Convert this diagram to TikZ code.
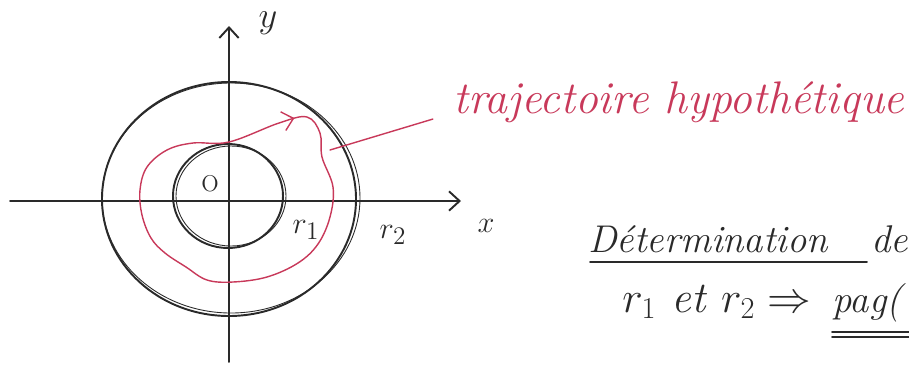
\documentclass[tikz,border=0pt]{standalone}
\usetikzlibrary{arrows.meta, decorations.markings}
\usepackage{xcolor}
\definecolor{pencil}{HTML}{2A2A2A}
\definecolor{redink}{HTML}{C8395A}

\begin{document}
\begin{tikzpicture}[x=0.02cm, y=-0.02cm,
    ink/.style={pencil, line width=1.1pt, line cap=round},
    sketch/.style={pencil, line width=0.5pt, line cap=round},
    traj/.style={redink, line width=0.8pt, line cap=round},
    hand/.style={inner sep=0pt, pencil},
    barb/.style={-{Straight Barb[length=6pt, width=11pt]}}]
  \useasboundingbox (0,0) rectangle (909,366);
  \clip (0,0) rectangle (909,366);

  % axes
  \coordinate (xa) at (10,201);
  \coordinate (xb) at (461,201);
  \coordinate (ya) at (229,362);
  \coordinate (yb) at (229,26);
  \draw[ink, barb] (xa) -- (xb);
  \draw[ink, barb] (ya) -- (yb);
  \node[hand, font=\fontsize{22}{26}\selectfont] (ylbl) at (268,23) {$y$};
  \node[hand, font=\fontsize{18}{22}\selectfont] (xlbl) at (486,226) {$x$};
  \node[hand, font=\fontsize{13}{16}\selectfont] (olbl) at (210,184) {O};

  % circles r1 and r2
  \draw[ink] (229,199) ellipse [x radius=127, y radius=117];
  \draw[sketch] (231,198) ellipse [x radius=129, y radius=115];
  \draw[ink] (228,196) ellipse [x radius=55, y radius=52];
  \draw[sketch] (231,196) ellipse [x radius=55, y radius=50];
  \node[hand, font=\fontsize{19}{22}\selectfont] (r1lbl) at (306,230) {$r_1$};
  \node[hand, font=\fontsize{19}{22}\selectfont] (r2lbl) at (393,235) {$r_2$};

  % trajectoire
  \draw[traj, postaction={decorate}, decoration={markings,
      mark=at position 0.028 with {\arrow{Straight Barb[length=6pt, width=11pt]}}}]
    plot[smooth cycle, tension=0.6] coordinates {
      (229,142) (279,123) (307,117) (320,133) (322,157) (333,187)
      (330,217) (318,244) (298,263) (267,277) (233,282) (207,280)
      (186,267) (165,253) (151,238) (142,215) (140,190) (147,167)
      (167,150) (193,143)};
  \coordinate (tp) at (330,150);
  \node[hand, redink, anchor=base west, font=\fontsize{26}{30}\selectfont\itshape]
    (trajlbl) at (453,113) {trajectoire hypoth\'etique};
  \draw[traj, shorten >=12pt] (tp) -- (trajlbl.base west);

  % texte
  \node[hand, anchor=base west, font=\fontsize{22}{26}\selectfont\itshape]
    (det) at (588,252) {D\'etermination};
  \node[hand, anchor=base west, font=\fontsize{22}{26}\selectfont\itshape]
    (de) at (871,252) {de};
  \draw[ink] (590,262) -- (867,262);
  \node[hand, anchor=base west, font=\fontsize{25}{30}\selectfont\itshape]
    (rr) at (622,312) {$r_1$ et $r_2 \Rightarrow$};
  \node[hand, anchor=base west, font=\fontsize{22}{26}\selectfont\itshape]
    (pag) at (832,312) {pag(};
  \draw[ink] (832,332) -- (909,332);
  \draw[ink] (832,337) -- (909,337);
\end{tikzpicture}
\end{document}
